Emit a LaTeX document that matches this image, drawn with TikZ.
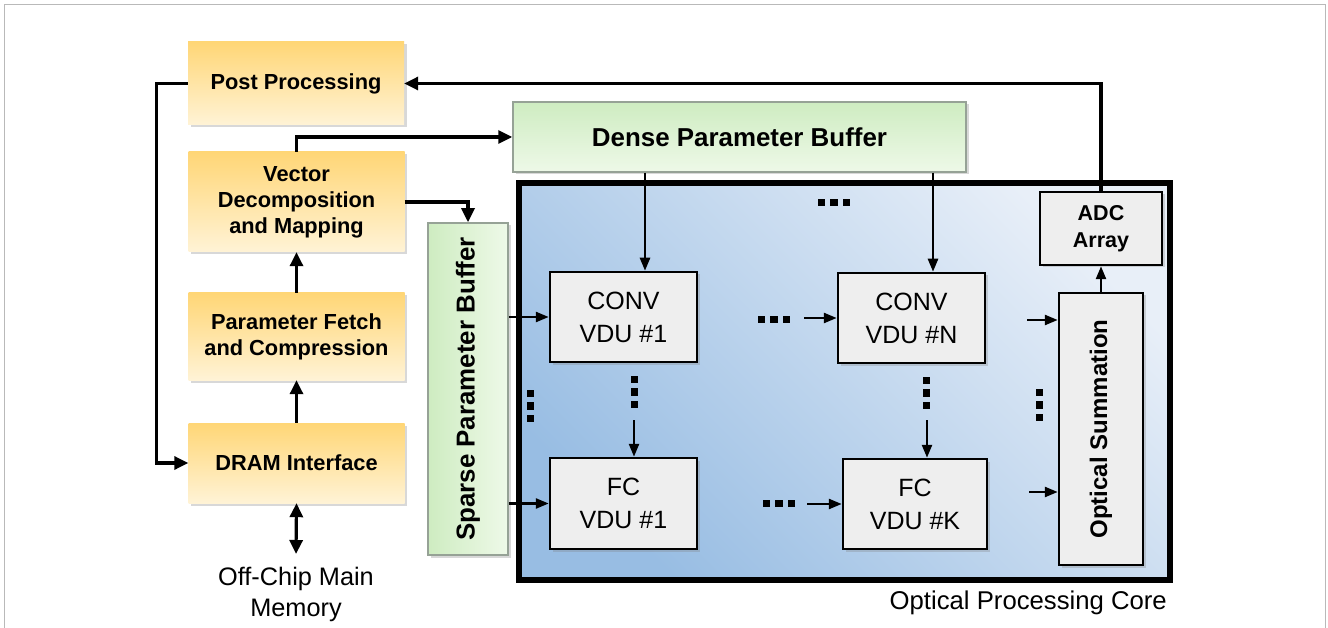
\documentclass[tikz,border=0pt]{standalone}
\usepackage{fontspec}
\setmainfont{Liberation Sans}
\usetikzlibrary{arrows.meta,shadows,calc}

\definecolor{ylwtop}{RGB}{255,214,118}
\definecolor{ylwbot}{RGB}{255,243,214}
\definecolor{grntop}{RGB}{206,236,193}
\definecolor{grnbot}{RGB}{238,249,232}
\definecolor{grnedge}{RGB}{150,162,150}
\definecolor{coredark}{RGB}{152,189,227}
\definecolor{corelight}{RGB}{232,239,248}
\definecolor{unitfill}{RGB}{238,238,238}
\definecolor{framegray}{RGB}{185,185,185}

% square "ellipsis" dots: horizontal and vertical rows of three
\newcommand{\dotsH}[2]{\foreach \i in {-1,0,1} \fill ({#1+12.5*\i-3.75},{#2-3.5}) rectangle ++(7.5,7);}
\newcommand{\dotsV}[2]{\foreach \i in {-1,0,1} \fill ({#1-3.5},{#2+12.5*\i-3.75}) rectangle ++(7,7.5);}

\tikzset{
  softshadow/.style={drop shadow={shadow xshift=2.5pt, shadow yshift=-2.5pt, opacity=0.3}},
  stage/.style={draw=none, top color=ylwtop, bottom color=ylwbot, minimum width=216pt,
    inner sep=0pt, align=center, softshadow,
    font=\bfseries\fontsize{21.8}{26}\selectfont},
  densebuf/.style={draw=grnedge, line width=1.5pt, top color=grntop, bottom color=grnbot,
    inner sep=0pt, softshadow, font=\bfseries\fontsize{25.9}{30}\selectfont},
  sparsebuf/.style={draw=grnedge, line width=1.5pt, left color=grntop, right color=grnbot,
    inner sep=0pt, softshadow, font=\bfseries\fontsize{25.9}{30}\selectfont},
  corebox/.style={draw=black, line width=5.5pt, top color=corelight, bottom color=coredark,
    shading angle=-45, inner sep=0pt},
  unit/.style={draw=black, line width=2.5pt, fill=unitfill, inner sep=0pt, align=center,
    softshadow, font=\fontsize{25}{33}\selectfont},
  unitbold/.style={unit, font=\bfseries\fontsize{21.5}{27}\selectfont},
  bigarrow/.style={line width=3.2pt, -{Triangle[length=14pt,width=13pt]}},
  bigboth/.style={line width=3.2pt, {Triangle[length=14pt,width=13pt]}-{Triangle[length=14pt,width=13pt]}},
  smallarrow/.style={line width=2.5pt, -{Triangle[length=13pt,width=10pt]}},
}

\begin{document}
\begin{tikzpicture}[x=1pt, y=-1pt]
\useasboundingbox (0,0) rectangle (1328,628);
\fill[white] (0,0) rectangle (1328,628);
\draw[framegray, line width=1pt] (4.5,628) -- (4.5,4.5) -- (1325.5,4.5) -- (1325.5,628);

% optical processing core
\node[corebox, minimum width=651pt, minimum height=397pt] (core) at (844.5,381.5) {};
\node[font=\fontsize{25.7}{30}\selectfont, anchor=base east, inner sep=0pt] (corelbl) at (1167,609) {Optical Processing Core};

% control pipeline
\node[stage, minimum height=83pt] (pp) at (296,83.5) {Post Processing};
\node[stage, minimum height=100pt] (vec) at (296.5,202) {Vector\\Decomposition\\and Mapping};
\node[stage, minimum height=87pt] (pfc) at (296.5,336.5) {Parameter Fetch\\and Compression};
\node[stage, minimum height=80pt] (dram) at (296.5,463) {DRAM Interface};
\node[font=\fontsize{25.3}{31}\selectfont, align=center, inner xsep=0pt, inner ysep=12.5pt] (mem) at (296,594) {Off-Chip Main\\Memory};

% parameter buffers
\node[densebuf, minimum width=453pt, minimum height=70pt] (dense) at (739.5,137) {Dense Parameter Buffer};
\node[sparsebuf, minimum width=80pt, minimum height=332pt] (sparse) at (468,389) {\rotatebox{90}{Sparse Parameter Buffer}};

% vector dot-product units
\node[unit, minimum width=147pt, minimum height=90pt] (conv1) at (623.5,317) {CONV\\VDU \#1};
\node[unit, minimum width=147pt, minimum height=90pt] (convN) at (911.5,318) {CONV\\VDU \#N};
\node[unit, minimum width=147pt, minimum height=91pt] (fc1) at (623.5,503.5) {FC\\VDU \#1};
\node[unit, minimum width=144pt, minimum height=90pt] (fcK) at (915,504) {FC\\VDU \#K};
\node[unitbold, minimum width=122pt, minimum height=73pt] (adc) at (1101,228.5) {ADC\\Array};
\node[unitbold, font=\bfseries\fontsize{24}{28}\selectfont, minimum width=84pt, minimum height=272pt] (opt) at (1101,429) {\rotatebox{90}{Optical Summation}};

% pipeline connectors
\draw[bigarrow] (adc.north) |- (pp.east);
\draw[bigarrow] (pp.west) -- ++(-31,0) |- (dram.west);
\draw[bigarrow] (vec.north) |- (dense.west);
\draw[bigarrow] (vec.east) -| (sparse.north);
\draw[bigarrow] (dram.north) -- (pfc.south);
\draw[bigarrow] (pfc.north) -- (vec.south);
\draw[bigboth] (dram.south) -- (mem.north);

% buffer feeds
\coordinate (c1in) at ([xshift=21.5pt]conv1.north);
\coordinate (cNin) at ([xshift=21.5pt]convN.north);
\draw[smallarrow] (c1in |- dense.south) -- (c1in);
\draw[smallarrow] (cNin |- dense.south) -- (cNin);
\draw[smallarrow] (sparse.east |- conv1.west) -- (conv1.west);
\draw[smallarrow] (sparse.east |- fc1.west) -- (fc1.west);

% chained units
\coordinate (f1src) at (634,420);
\coordinate (fKsrc) at (927,420);
\draw[smallarrow] (f1src) -- (f1src |- fc1.north);
\draw[smallarrow] (fKsrc) -- (fKsrc |- fcK.north);
\coordinate (cNsrc) at (804,318);
\draw[smallarrow] (cNsrc) -- (convN.west);
\coordinate (fKrow) at (807,504);
\draw[smallarrow] (fKrow) -- (fcK.west);
\coordinate (osum1) at (1027,320);
\coordinate (osum2) at (1029,492);
\draw[smallarrow] (osum1) -- (osum1 -| opt.west);
\draw[smallarrow] (osum2) -- (osum2 -| opt.west);
\draw[smallarrow] (opt.north) -- (adc.south);

% ellipses
\dotsH{834}{203}
\dotsH{774}{320}
\dotsH{779}{503}
\dotsV{530}{406}
\dotsV{1039}{405}
\dotsV{634}{392}
\dotsV{926}{393}
\end{tikzpicture}
\end{document}
